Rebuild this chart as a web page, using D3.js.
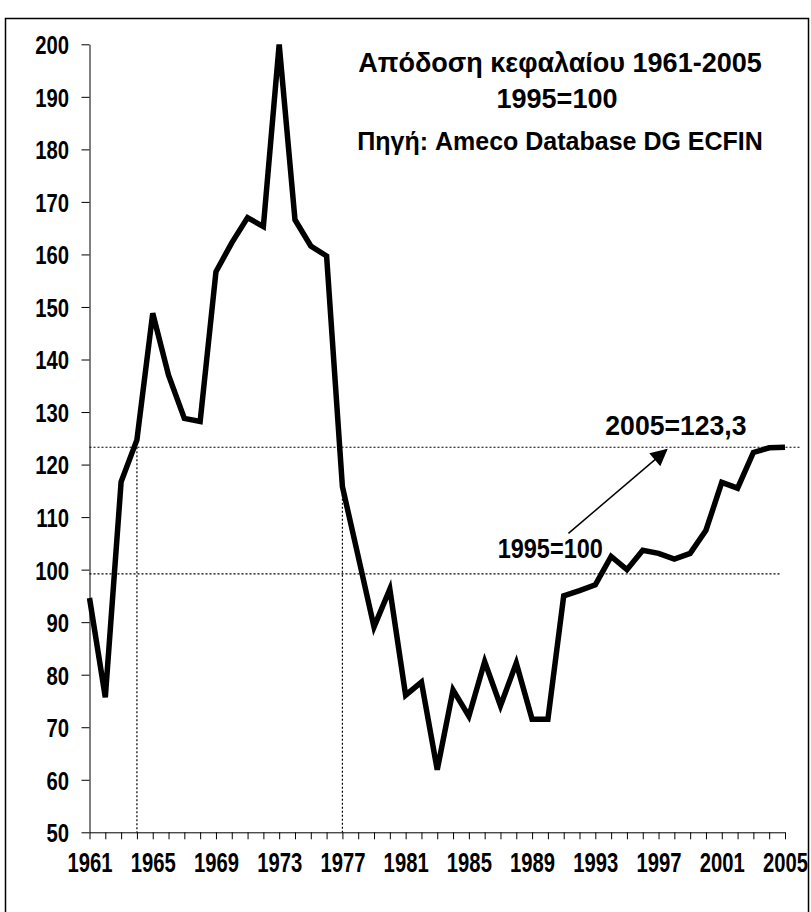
<!DOCTYPE html>
<html>
<head>
<meta charset="utf-8">
<script src="https://cdn.jsdelivr.net/npm/d3@7"></script>
<style>
  body { margin: 0; background: #fff; }
  text { font-family: "Liberation Sans", Arial, sans-serif; font-weight: bold; fill: #000; }
</style>
</head>
<body>
<div id="chart"></div>
<script>
// Απόδοση κεφαλαίου, 1995=100 (Ameco)
var years = d3.range(1961, 2006);
var values = [94.6, 75.7, 116.7, 124.7, 148.8, 137.0, 128.8, 128.2, 156.7, 162.2,
              167.0, 165.3, 200.0, 166.6, 161.6, 159.7, 115.8, 102.5, 89.1, 96.3,
              76.1, 78.6, 61.9, 77.1, 72.1, 82.5, 74.1, 82.2, 71.5, 71.5,
              95.0, 96.0, 97.1, 102.5, 100.0, 103.7, 103.1, 102.0, 103.1, 107.5,
              116.6, 115.5, 122.3, 123.2, 123.3];
var yTicks = d3.range(50, 201, 10);
var xLabels = years.filter(function(d) { return (d - 1961) % 4 == 0; });
var titleLines = ["Απόδοση κεφαλαίου 1961-2005", "1995=100", "Πηγή: Ameco Database DG ECFIN"];
var refHigh = 123.3, refLow = 99.2;

var width = 811, height = 912,
    svg = d3.select("#chart").append("svg")
      .attr("width", width)
      .attr("height", height);

var x = d3.scaleLinear().domain([1961, 2005]).range([89.5, 785]);
var y = d3.scaleLinear().domain([50, 200]).range([832.3, 44.3]);

// outer frame
svg.append("rect")
    .attr("x", 5.5).attr("y", 18.5)
    .attr("width", 803).attr("height", 920)
    .attr("fill", "none").attr("stroke", "#000").attr("stroke-width", 1.5);

// axes (tick labels are set narrow, hence the scale)
var ySx = 0.78, xSx = 0.75;
var yAxis = svg.append("g")
    .attr("transform", "translate(" + x(1961) + ",0)")
    .call(d3.axisLeft(y).tickValues(yTicks).tickSize(8).tickSizeOuter(0));
yAxis.selectAll("text")
    .attr("x", -20.5 / ySx).attr("dy", "0.36em")
    .attr("transform", "scale(" + ySx + ",1)")
    .style("font-size", "26px");

var xAxis = svg.append("g")
    .attr("transform", "translate(0," + y(50) + ")")
    .call(d3.axisBottom(x).tickValues(years).tickSize(7).tickSizeOuter(0)
      .tickFormat(function(d) { return xLabels.indexOf(d) >= 0 ? d : ""; }));
xAxis.selectAll("text")
    .attr("y", 40).attr("dy", 0)
    .attr("transform", "scale(" + xSx + ",1)")
    .style("font-size", "27px");

svg.selectAll(".domain, .tick line").attr("stroke", "#000");

// dotted guide lines
var guides = svg.append("g")
    .attr("stroke", "#000").attr("stroke-width", 1.2).attr("stroke-dasharray", "2,2");
guides.append("line")
    .attr("x1", x(1961)).attr("x2", 800)
    .attr("y1", y(refHigh)).attr("y2", y(refHigh));
guides.append("line")
    .attr("x1", x(1961)).attr("x2", 780)
    .attr("y1", y(refLow)).attr("y2", y(refLow));
guides.append("line")
    .attr("x1", x(1964)).attr("x2", x(1964))
    .attr("y1", y(refHigh)).attr("y2", y(50));
guides.append("line")
    .attr("x1", x(1977)).attr("x2", x(1977))
    .attr("y1", y(values[1977 - 1961])).attr("y2", y(50));

// the series, clipped to the plot area like the spike in 1973
svg.append("clipPath").attr("id", "plot")
  .append("rect")
    .attr("x", x(1961) - 5).attr("y", y(200))
    .attr("width", x(2005) - x(1961) + 10).attr("height", y(50) - y(200));

var line = d3.line()
    .x(function(d, i) { return x(years[i]); })
    .y(function(d) { return y(d); });

svg.append("path")
    .datum(values)
    .attr("clip-path", "url(#plot)")
    .attr("fill", "none")
    .attr("stroke", "#000")
    .attr("stroke-width", 5.5)
    .attr("stroke-linejoin", "miter")
    .attr("d", line);

// arrow 1995=100 -> 2005=123,3
svg.append("defs").append("marker")
    .attr("id", "head")
    .attr("viewBox", "0 0 10 10")
    .attr("refX", 9).attr("refY", 5)
    .attr("markerWidth", 20).attr("markerHeight", 17)
    .attr("markerUnits", "userSpaceOnUse")
    .attr("orient", "auto")
  .append("path")
    .attr("d", "M0,0L10,5L0,10z")
    .attr("fill", "#000");

svg.append("line")
    .attr("x1", x(1991.3)).attr("y1", y(106.9))
    .attr("x2", x(1997.5)).attr("y2", y(122.8))
    .attr("stroke", "#000").attr("stroke-width", 1.5)
    .attr("marker-end", "url(#head)");

function label(px, py, txt, size, sx) {
  svg.append("text")
      .attr("transform", "translate(" + px + "," + py + ") scale(" + sx + ",1)")
      .attr("text-anchor", "middle")
      .style("font-size", size + "px")
      .text(txt);
}

label(x(1998.1), y(refHigh) - 12.5, "2005=123,3", 28, 0.95);
label(x(1990.15), y(refLow) - 16, "1995=100", 28, 0.84);

// title block
label(560, 72, titleLines[0], 28, 0.965);
label(557, 108, titleLines[1], 28, 0.965);
label(560, 150, titleLines[2], 25, 1.0);
</script>
</body>
</html>
